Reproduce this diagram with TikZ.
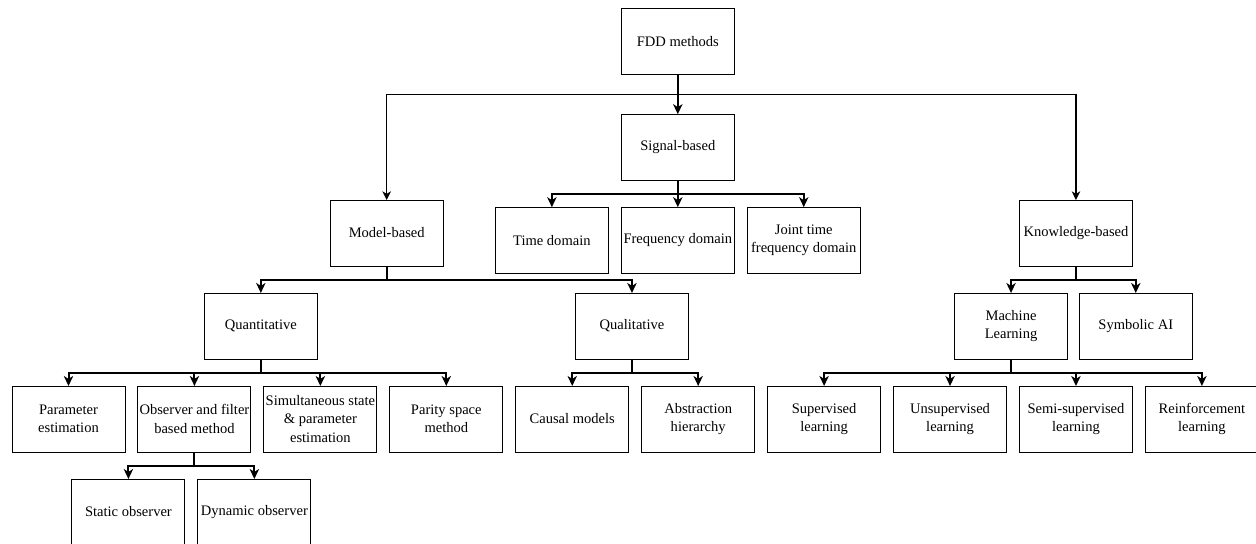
\documentclass[tikz,border=0pt]{standalone}
\usepackage{fontspec}
\setmainfont{Liberation Serif}
\usetikzlibrary{positioning,arrows.meta}
\tikzstyle{block} = [rectangle, draw, line width=0.75pt, text centered, minimum width=84.75pt, minimum height=49.5pt, inner sep=0.5pt, outer sep=0pt, font=\fontsize{10.9pt}{13.7pt}\selectfont]
\tikzstyle{connector} = [line width=1.5pt, -{Stealth[length=7.5pt, width=7pt, inset=2.2pt]}]
\tikzstyle{thin connector} = [line width=0.8pt, -{Stealth[length=6.5pt, width=6.4pt, inset=1.9pt]}]

\begin{document}
\begin{tikzpicture}[x=0.75pt, y=-0.75pt, node distance=20.25pt and 9.7pt, every text node part/.style={align=center}]
        \fill [white] (0,0) rectangle (1256,543);
        \useasboundingbox (0,0) rectangle (1256,543);
        \node (fdd) [block] at (677.8,41.2) {FDD methods};
        \node (signal-based) [block, below=30pt of fdd] {Signal-based};
        \node (frequency) [block, below=of signal-based] {Frequency domain};
        \node (time) [block, left=of frequency] {Time domain};
        \node (joint) [block, right=of frequency] {Joint time\\frequency domain};
        \node (parameter) [block] at (68.5,419) {Parameter\\estimation};
        \node (observer) [block, right=of parameter] {Observer and filter\\based method};
        \node (simultaneous) [block, right=of observer] {Simultaneous state\\\& parameter\\estimation};
        \node (parity) [block, right=of simultaneous] {Parity space\\method};
        \node (causal) [block, right=of parity] {Causal models};
        \node (abstraction) [block, right=of causal] {Abstraction\\hierarchy};
        \node (supervised) [block, right=of abstraction] {Supervised\\learning};
        \node (unsupervised) [block, right=of supervised] {Unsupervised\\learning};
        \node (semi-supervised) [block, right=of unsupervised] {Semi-supervised\\learning};
        \node (reinforcement) [block, right=of semi-supervised] {Reinforcement\\learning};
        \node (static) [block, below=of observer, xshift=-49.5pt] {Static observer};
        \node (dynamic) [block, right=of static] {Dynamic observer};
        \node (quantitative) [block, above=of observer, xshift=49.8pt] {Quantitative};
        \node (qualitative) [block, above=of causal, xshift=44.8pt] {Qualitative};
        \node (machine) [block, above=of unsupervised, xshift=45.75pt] {Machine\\Learning};
        \node (symbolic) [block, right=8.8pt of machine] {Symbolic AI};
        \node (model-based) [block, above=of quantitative, xshift=94.4pt] {Model-based};
        \node (knowledge-based) [block, above=of machine, xshift=48.7pt] {Knowledge-based};
        \draw [thin connector] (fdd.south) -- ++(0,20.3) -| (model-based.north);
        \draw [thin connector] (fdd.south) -- ++(0,20.3) -| (knowledge-based.north);
        \draw [connector] (fdd) -- (signal-based);
        \draw [connector] (signal-based.south) -- ++(0,13.5) -| (time.north);
        \draw [connector] (signal-based) -- (frequency);
        \draw [connector] (signal-based.south) -- ++(0,13.5) -| (joint.north);
        \draw [connector] (model-based.south) -- ++(0,13.5) -| (quantitative.north);
        \draw [connector] (model-based.south) -- ++(0,13.5) -| (qualitative.north);
        \draw [connector] (knowledge-based.south) -- ++(0,13.5) -| (machine.north);
        \draw [connector] (knowledge-based.south) -- ++(0,13.5) -| (symbolic.north);
        \draw [connector] (quantitative.south) -- ++(0,13.5) -| (parameter.north);
        \draw [connector] (quantitative.south) -- ++(0,13.5) -| (observer.north);
        \draw [connector] (quantitative.south) -- ++(0,13.5) -| (simultaneous.north);
        \draw [connector] (quantitative.south) -- ++(0,13.5) -| (parity.north);
        \draw [connector] (qualitative.south) -- ++(0,13.5) -| (causal.north);
        \draw [connector] (qualitative.south) -- ++(0,13.5) -| (abstraction.north);
        \draw [connector] (machine.south) -- ++(0,13.5) -| (supervised.north);
        \draw [connector] (machine.south) -- ++(0,13.5) -| (unsupervised.north);
        \draw [connector] (machine.south) -- ++(0,13.5) -| (semi-supervised.north);
        \draw [connector] (machine.south) -- ++(0,13.5) -| (reinforcement.north);
        \draw [connector] (observer.south) -- ++(0,13.5) -| (static.north);
        \draw [connector] (observer.south) -- ++(0,13.5) -| (dynamic.north);
    \end{tikzpicture}
\end{document}
